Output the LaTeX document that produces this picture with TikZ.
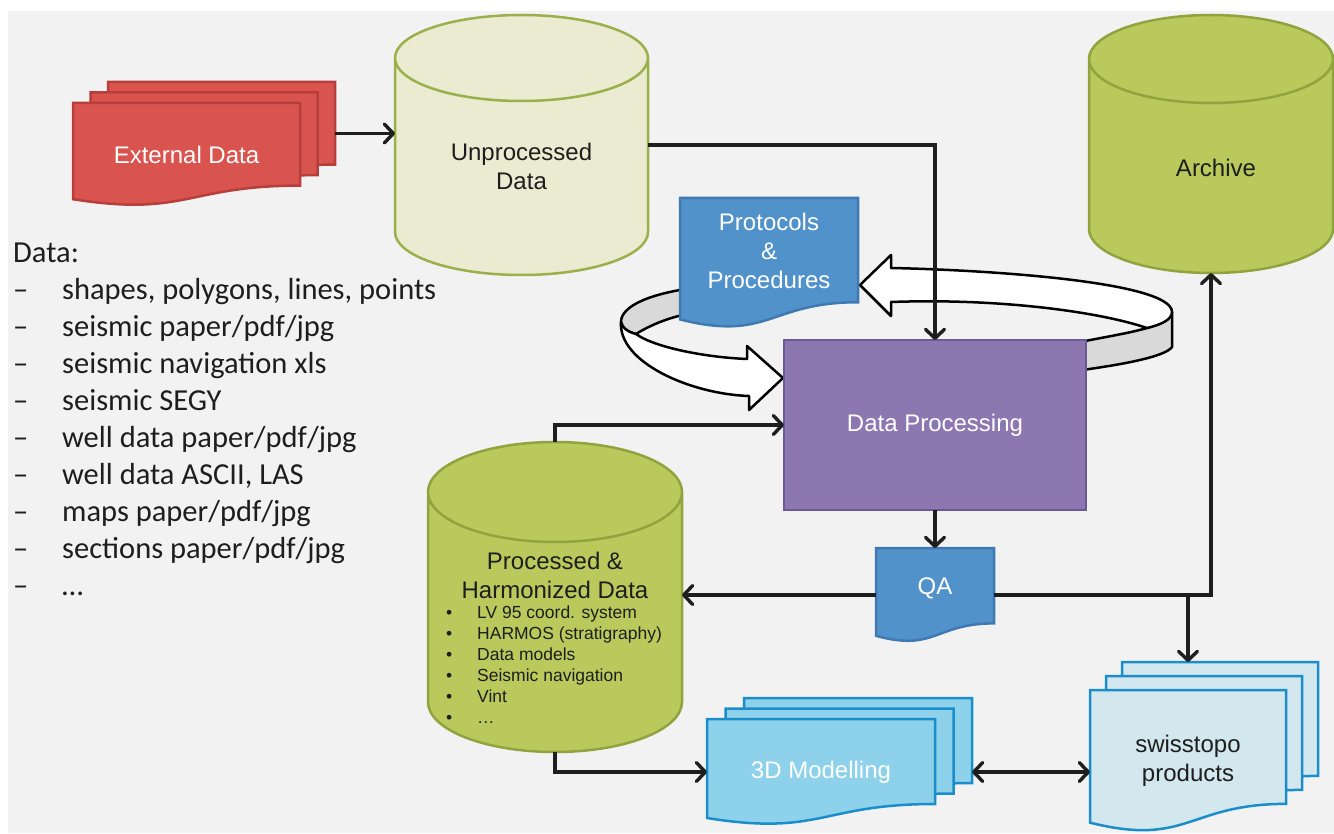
\documentclass[tikz,border=0pt]{standalone}
\usepackage{fontspec}
\setmainfont{Liberation Sans}
\newfontfamily\calibri{Carlito}
\definecolor{paper}{HTML}{F2F2F2}
\definecolor{brick}{HTML}{D9544F}
\definecolor{brickline}{HTML}{B73E3B}
\definecolor{cream}{HTML}{EBEBD1}
\definecolor{olive}{HTML}{9BAF4B}
\definecolor{pistachio}{HTML}{B9C95B}
\definecolor{moss}{HTML}{90A33F}
\definecolor{steel}{HTML}{5192CA}
\definecolor{steelline}{HTML}{3E79B2}
\definecolor{lavender}{HTML}{8C77B1}
\definecolor{lavenderline}{HTML}{6C5997}
\definecolor{sky}{HTML}{8DD2EA}
\definecolor{skyline}{HTML}{1C8DCB}
\definecolor{frost}{HTML}{D3E8EE}
\definecolor{ringgray}{HTML}{D9D9D9}
\definecolor{ink}{HTML}{1E1E1E}
\usetikzlibrary{arrows.meta,positioning,calc}

\newdimen\docxl \newdimen\docxr \newdimen\docyb \newdimen\docyt \newdimen\docxm \newdimen\doch
\pgfkeys{/pgf/drum cap/.initial=40pt}
\makeatletter
\pgfdeclareshape{docsheet}{%
  \inheritsavedanchors[from=rectangle]%
  \inheritanchorborder[from=rectangle]%
  \inheritanchor[from=rectangle]{center}%
  \inheritanchor[from=rectangle]{north}%
  \inheritanchor[from=rectangle]{south}%
  \inheritanchor[from=rectangle]{east}%
  \inheritanchor[from=rectangle]{west}%
  \inheritanchor[from=rectangle]{north east}%
  \inheritanchor[from=rectangle]{north west}%
  \inheritanchor[from=rectangle]{south east}%
  \inheritanchor[from=rectangle]{south west}%
  \inheritanchor[from=rectangle]{base}%
  \inheritanchor[from=rectangle]{mid}%
  \backgroundpath{%
    \southwest \docxl=\pgf@x \docyb=\pgf@y
    \northeast \docxr=\pgf@x \docyt=\pgf@y
    \docxm=.5\docxl \advance\docxm by .5\docxr
    \doch=\docyt \advance\doch by -\docyb
    \pgfpathmoveto{\pgfqpoint{\docxl}{\docyt}}%
    \pgfpathlineto{\pgfqpoint{\docxr}{\docyt}}%
    \pgfpathlineto{\pgfqpoint{\docxr}{\dimexpr\docyb+0.198\doch\relax}}%
    \pgfpathcurveto{\pgfqpoint{\docxm}{\dimexpr\docyb+0.198\doch\relax}}%
      {\pgfqpoint{\docxm}{\dimexpr\docyb-0.107\doch\relax}}%
      {\pgfqpoint{\docxl}{\dimexpr\docyb+0.066\doch\relax}}%
    \pgfpathclose
  }%
}
\pgfdeclareshape{drum}{%
  \inheritsavedanchors[from=rectangle]%
  \inheritanchorborder[from=rectangle]%
  \inheritanchor[from=rectangle]{center}%
  \inheritanchor[from=rectangle]{north}%
  \inheritanchor[from=rectangle]{south}%
  \inheritanchor[from=rectangle]{east}%
  \inheritanchor[from=rectangle]{west}%
  \inheritanchor[from=rectangle]{north east}%
  \inheritanchor[from=rectangle]{north west}%
  \inheritanchor[from=rectangle]{south east}%
  \inheritanchor[from=rectangle]{south west}%
  \backgroundpath{%
    \southwest \docxl=\pgf@x \docyb=\pgf@y
    \northeast \docxr=\pgf@x \docyt=\pgf@y
    \pgfmathsetlength\doch{\pgfkeysvalueof{/pgf/drum cap}}%
    \docxm=.5\docxr \advance\docxm by -.5\docxl
    \pgfpathmoveto{\pgfqpoint{\docxl}{\dimexpr\docyt-\doch\relax}}%
    \pgfpathlineto{\pgfqpoint{\docxl}{\dimexpr\docyb+\doch\relax}}%
    \pgfpatharc{180}{360}{\docxm and \doch}%
    \pgfpathlineto{\pgfqpoint{\docxr}{\dimexpr\docyt-\doch\relax}}%
    \pgfpatharc{0}{180}{\docxm and \doch}%
    \pgfpathclose
    \pgfpathmoveto{\pgfqpoint{\docxl}{\dimexpr\docyt-\doch\relax}}%
    \pgfpatharc{180}{360}{\docxm and \doch}%
  }%
}
\makeatother

\begin{document}
\begin{tikzpicture}[x=1pt,y=-1pt,
    >={Straight Barb[length=9pt,width=19pt,round]},
    lbl/.style={font=\fontsize{24}{29}\selectfont, align=center},
    sheet/.style={shape=docsheet, line width=2.5pt, outer sep=0pt, inner sep=0pt, lbl},
    store/.style={shape=drum, line width=2.5pt, outer sep=0pt, inner sep=0pt},
    link/.style={->, line width=3.4pt, ink}]
    \useasboundingbox (0,0) rectangle (1334,834);
    \fill[white] (0,0) rectangle (1334,834);
    \fill[paper] (8,11) rectangle (1334,833);

    % ring around protocols and processing
    \filldraw[ringgray, draw=black, line width=2.5pt, line join=round] (1172,312) -- (1172,347) .. controls (1165,357) and (1120,365) .. (1075,371) -- (1075,343) .. controls (1105,337) and (1130,333) .. (1147,328) .. controls (1162,323) and (1172,318) .. (1172,312) -- cycle;
    \filldraw[white, draw=black, line width=2.5pt, line join=round] (891,268) .. controls (990,270) and (1172,282) .. (1172,312) .. controls (1172,320) and (1160,325) .. (1147,328) .. controls (1100,312) and (1000,298) .. (891,302) -- (891,316) -- (860,285) -- (891,255) -- cycle;
    \filldraw[ringgray, draw=black, line width=2.5pt, line join=round] (700,287) .. controls (650,293) and (621,306) .. (621,322) .. controls (622,328) and (628,332) .. (636,334) .. controls (655,322) and (680,314) .. (700,312) -- cycle;
    \filldraw[white, draw=black, line width=2.5pt, line join=round] (621,322) .. controls (618,362) and (690,394) .. (749,396) -- (749,410) -- (783,378) -- (747,346) -- (747,359) .. controls (700,357) and (652,346) .. (636,334) .. controls (628,332) and (622,328) .. (621,322) -- cycle;

    % stores
    \node[store, draw=olive, fill=cream, drum cap=43, minimum width=253, minimum height=260] (unproc) at (521.5,145) {};
    \node[lbl, text=ink] (unproctext) at (521.5,166) {Unprocessed\\Data};
    \node[store, draw=moss, fill=pistachio, drum cap=44, minimum width=244, minimum height=258] (archive) at (1211,144) {};
    \node[lbl, text=ink] (archivetext) at (1216,168) {Archive};
    \node[store, draw=moss, fill=pistachio, drum cap=50, minimum width=254, minimum height=310] (proc) at (555,597) {};
    \node[lbl, text=ink] (proctitle) at (555,575) {Processed \&\\Harmonized Data};
    \node[anchor=north west, inner sep=0pt, align=left, font=\fontsize{17.5}{21}\selectfont, text=ink] (proclist) at (446,606) {\makebox[31pt][l]{\textbullet}LV 95 coord. system\\
        \makebox[31pt][l]{\textbullet}HARMOS (stratigraphy)\\
        \makebox[31pt][l]{\textbullet}Data models\\
        \makebox[31pt][l]{\textbullet}Seismic navigation\\
        \makebox[31pt][l]{\textbullet}Vint\\
        \makebox[31pt][l]{\textbullet}…};

    % documents
    \node[sheet, draw=brickline, fill=brick, minimum width=227, minimum height=103] (ext3) at (221.5,133.5) {};
    \node[sheet, draw=brickline, fill=brick, minimum width=227, minimum height=103] (ext2) at (204,144) {};
    \node[sheet, draw=brickline, fill=brick, minimum width=227, minimum height=103, text=white] (ext) at (186.5,154.5) {External Data};
    \node[sheet, draw=steelline, fill=steel, minimum width=178, minimum height=130] (proto) at (769,263) {};
    \node[lbl, text=white] (prototext) at (769,251) {Protocols\\\&\\Procedures};
    \node[draw=lavenderline, fill=lavender, line width=2.5pt, outer sep=0pt, minimum width=302, minimum height=170, lbl, text=white] (dp) at (935,425) {Data Processing};
    \node[sheet, draw=steelline, fill=steel, minimum width=118, minimum height=94] (qa) at (935,595) {};
    \node[lbl, text=white] (qatext) at (935,588) {QA};
    \node[sheet, draw=skyline, fill=sky, minimum width=228, minimum height=106] (td3) at (858,751) {};
    \node[sheet, draw=skyline, fill=sky, minimum width=228, minimum height=106] (td2) at (839.5,761.5) {};
    \node[sheet, draw=skyline, fill=sky, minimum width=228, minimum height=106, text=white] (threeD) at (821,772) {3D Modelling};
    \node[sheet, draw=skyline, fill=frost, minimum width=196, minimum height=142] (sw3) at (1220,733) {};
    \node[sheet, draw=skyline, fill=frost, minimum width=196, minimum height=142] (sw2) at (1204,747) {};
    \node[sheet, draw=skyline, fill=frost, minimum width=196, minimum height=142, text=ink] (swiss) at (1188,761) {swisstopo\\products};

    % data types
    \node[anchor=north west, inner sep=0pt, align=left, font=\calibri\fontsize{30.5}{37}\selectfont, text=ink] (datalist) at (13,243) {Data:\\
        \makebox[49pt][l]{–}shapes, polygons, lines, points\\
        \makebox[49pt][l]{–}seismic paper/pdf/jpg\\
        \makebox[49pt][l]{–}seismic navigation xls\\
        \makebox[49pt][l]{–}seismic SEGY\\
        \makebox[49pt][l]{–}well data paper/pdf/jpg\\
        \makebox[49pt][l]{–}well data ASCII, LAS\\
        \makebox[49pt][l]{–}maps paper/pdf/jpg\\
        \makebox[49pt][l]{–}sections paper/pdf/jpg\\
        \makebox[49pt][l]{–}…};

    % flows
    \draw[link] (ext3.east) -- (ext3.east -| unproc.west);
    \draw[link] (unproc.east) -| (dp.north);
    \draw[link] (proc.north) |- (dp.west);
    \draw[link] (dp.south) -- (qa.north);
    \draw[link] (qa.west) -- (qa.west -| proc.east);
    \draw[link] (qa.east) -| (archive.south);
    \draw[link] (qa.east -| swiss.north) -- (swiss.north |- sw3.north);
    \draw[link] (proc.south) |- (threeD.west);
    \draw[link,<->] (td3.east |- threeD.east) -- (swiss.west |- threeD.east);
\end{tikzpicture}
\end{document}
